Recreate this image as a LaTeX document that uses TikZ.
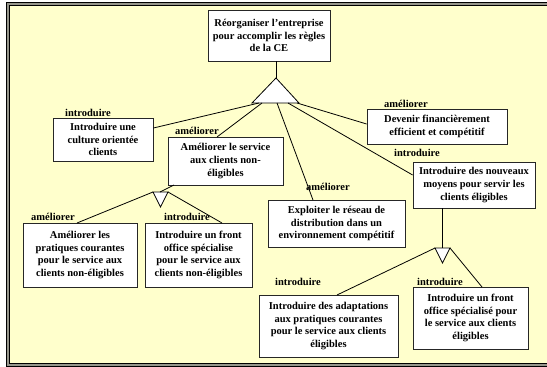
\documentclass[tikz,border=0pt]{standalone}
\usepackage{fontspec}
\setmainfont{Liberation Serif}
\definecolor{paper}{RGB}{255,255,204}
\definecolor{rim}{RGB}{150,150,140}
\tikzset{
  goal/.style={draw=black!85, line width=0.8pt, fill=white, align=center,
    font=\bfseries\fontsize{10.5}{12.6}\selectfont, inner sep=2pt},
  rel/.style={font=\bfseries\fontsize{10.5}{12.6}\selectfont, inner sep=0pt},
  link/.style={draw=black, line width=0.8pt},
  andnode/.style={draw=black, line width=0.8pt, fill=white}
}
\begin{document}
\begin{tikzpicture}[x=1pt,y=-1pt]
\useasboundingbox (0,0) rectangle (547,367);
% double frame with yellow background
\filldraw[fill=rim, draw=black, line width=0.8pt] (6.5,2.5) rectangle (570,366.5);
\filldraw[fill=paper, draw=black, line width=1.2pt] (9.8,5.8) rectangle (570,363.4);

% goals
\node[goal, minimum width=122, minimum height=51] (A) at (269,35.5)
  {R\'eorganiser l'entreprise\\pour accomplir les r\`egles\\de la CE};
\node[goal, minimum width=100, minimum height=43] (B) at (103,139.5)
  {Introduire une\\culture orient\'ee\\clients};
\node[goal, minimum width=140, minimum height=35] (C) at (437,126.5)
  {Devenir financi\`erement\\efficient et comp\'etitif};
\node[goal, minimum width=115, minimum height=48] (D) at (225.5,161)
  {Am\'eliorer le service\\aux clients non-\\\'eligibles};
\node[goal, minimum width=137, minimum height=47] (E) at (336.5,223.5)
  {Exploiter le r\'eseau de\\distribution dans un\\environnement comp\'etitif};
\node[goal, minimum width=122, minimum height=46] (F) at (474,185)
  {Introduire des nouveaux\\moyens pour servir les\\clients \'eligibles};
\node[goal, minimum width=114, minimum height=64] (G) at (80,255)
  {Am\'eliorer les\\pratiques courantes\\pour le service aux\\clients non-\'eligibles};
\node[goal, minimum width=107, minimum height=64] (H) at (198.5,255)
  {Introduire un front\\office sp\'ecialise\\pour le service aux\\clients non-\'eligibles};
\node[goal, minimum width=139, minimum height=62] (I) at (328.5,326)
  {Introduire des adaptations\\aux pratiques courantes\\pour le service aux clients\\\'eligibles};
\node[goal, minimum width=115, minimum height=62] (J) at (470.5,318)
  {Introduire un front\\office sp\'ecialis\'e pour\\le service aux clients\\\'eligibles};

% refinement triangles
\coordinate (t1a) at (276,78);
\coordinate (t1l) at (252,103);
\coordinate (t1r) at (299,103);
\filldraw[andnode] (t1a) -- (t1l) -- (t1r) -- cycle;
\coordinate (t2a) at (160.5,207);
\coordinate (t2l) at (153,192);
\coordinate (t2r) at (168,192);
\filldraw[andnode] (t2a) -- (t2l) -- (t2r) -- cycle;
\coordinate (t3a) at (442.5,263);
\coordinate (t3l) at (435,248);
\coordinate (t3r) at (450,248);
\filldraw[andnode] (t3a) -- (t3l) -- (t3r) -- cycle;

% links
\draw[link] (A.south -| t1a) -- (t1a);
\draw[link] (259,103) -- (B.east |- 0,128);
\draw[link] (262,103) -- (217,137);
\draw[link] (277,103) -- (313,200);
\draw[link] (288,103) -- (F.west |- 0,175);
\draw[link] (297,103) -- (C.west |- 0,124);
\draw[link] (174,185) -- (160,192);
\draw[link] (t2l) -- (77,223);
\draw[link] (t2r) -- (222,223);
\draw[link] (F.south -| t3a) -- (442.5,248);
\draw[link] (t3l) -- (337,295);
\draw[link] (t3r) -- (482,287);

% link labels
\node[rel] (lb) at (88,113) {introduire};
\node[rel] (lc) at (406,104) {am\'eliorer};
\node[rel] (ld) at (197,131) {am\'eliorer};
\node[rel] (le) at (328,187) {am\'eliorer};
\node[rel] (lf) at (417,153) {introduire};
\node[rel] (lg) at (53,217) {am\'eliorer};
\node[rel] (lh) at (187,217) {introduire};
\node[rel] (li) at (298,282) {introduire};
\node[rel] (lj) at (440,282) {introduire};
\end{tikzpicture}
\end{document}
